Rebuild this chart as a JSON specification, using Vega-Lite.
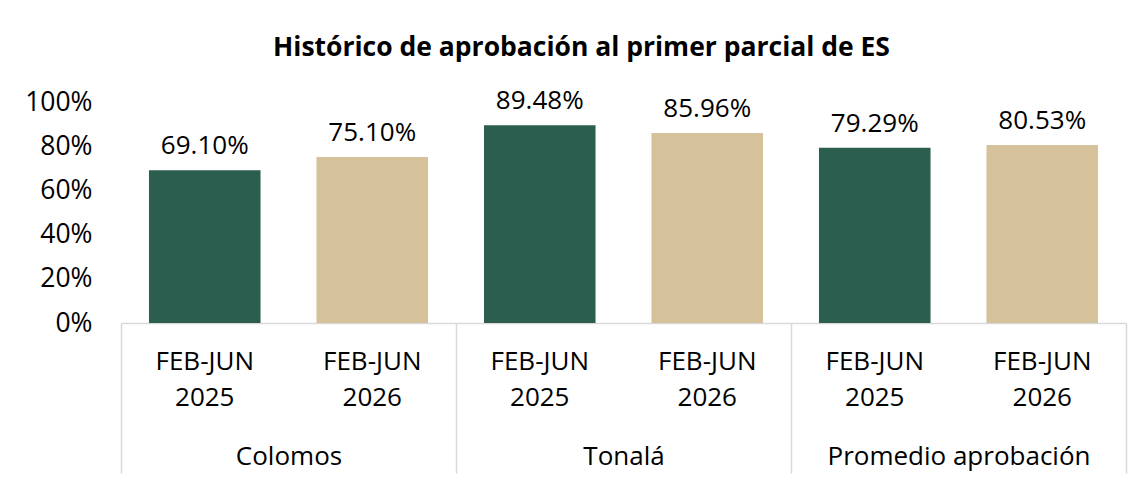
{
  "$schema": "https://vega.github.io/schema/vega-lite/v6.json",
  "width": 1005,
  "height": 221,
  "autosize": {"type": "none"},
  "padding": {"left": 121, "top": 102, "right": 16, "bottom": 159},
  "background": "white",
  "config": {"view": {"stroke": null}, "font": "Open Sans"},
  "title": {
    "text": "Histórico de aprobación al primer parcial de ES",
    "font": "Open Sans",
    "fontSize": 26.5,
    "fontWeight": "bold",
    "color": "#000000",
    "anchor": "middle",
    "dx": -42,
    "offset": 27
  },
  "data": {
    "values": [
      {"key": "Colomos | FEB-JUN 2025", "grupo": "Colomos", "periodo": "FEB-JUN 2025", "valor": 0.691, "etiqueta": "69.10%"},
      {"key": "Colomos | FEB-JUN 2026", "grupo": "Colomos", "periodo": "FEB-JUN 2026", "valor": 0.751, "etiqueta": "75.10%"},
      {"key": "Tonalá | FEB-JUN 2025", "grupo": "Tonalá", "periodo": "FEB-JUN 2025", "valor": 0.8948, "etiqueta": "89.48%"},
      {"key": "Tonalá | FEB-JUN 2026", "grupo": "Tonalá", "periodo": "FEB-JUN 2026", "valor": 0.8596, "etiqueta": "85.96%"},
      {"key": "Promedio aprobación | FEB-JUN 2025", "grupo": "Promedio aprobación", "periodo": "FEB-JUN 2025", "valor": 0.7929, "etiqueta": "79.29%"},
      {"key": "Promedio aprobación | FEB-JUN 2026", "grupo": "Promedio aprobación", "periodo": "FEB-JUN 2026", "valor": 0.8053, "etiqueta": "80.53%"}
    ]
  },
  "layer": [
    {
      "layer": [
        {
          "mark": {"type": "bar"},
          "encoding": {
            "x": {
              "field": "key",
              "type": "nominal",
              "sort": null,
              "scale": {"paddingInner": 0.334, "paddingOuter": 0.167},
              "axis": {
                "orient": "bottom",
                "title": null,
                "domain": false,
                "ticks": false,
                "labelAngle": 0,
                "labelExpr": "split(split(datum.label, ' | ')[1], ' ')",
                "labelFont": "Open Sans",
                "labelFontSize": 26,
                "labelLineHeight": 36,
                "labelColor": "#000000",
                "labelPadding": 25,
                "labelBaseline": "top"
              }
            },
            "y": {
              "field": "valor",
              "type": "quantitative",
              "scale": {"domain": [0, 1], "nice": false},
              "axis": {
                "title": null,
                "values": [0, 0.2, 0.4, 0.6, 0.8, 1],
                "format": ".0%",
                "domain": false,
                "ticks": false,
                "grid": false,
                "labelFont": "Open Sans",
                "labelFontSize": 26.5,
                "labelColor": "#000000",
                "labelPadding": 29
              }
            },
            "color": {
              "field": "periodo",
              "type": "nominal",
              "scale": {"domain": ["FEB-JUN 2025", "FEB-JUN 2026"], "range": ["#2B5E4E", "#D5C19A"]},
              "legend": null
            }
          }
        },
        {
          "mark": {"type": "text", "baseline": "alphabetic", "dy": -16, "font": "Open Sans", "fontSize": 26, "color": "#000000"},
          "encoding": {
            "x": {"field": "key", "type": "nominal", "sort": null},
            "y": {"field": "valor", "type": "quantitative"},
            "text": {"field": "etiqueta"}
          }
        }
      ]
    },
    {
      "mark": {"type": "point", "opacity": 0},
      "encoding": {
        "x": {
          "field": "grupo",
          "type": "nominal",
          "sort": null,
          "scale": {"paddingInner": 0, "paddingOuter": 0},
          "axis": {
            "orient": "bottom",
            "title": null,
            "labelAngle": 0,
            "domain": true,
            "domainColor": "#D9D9D9",
            "domainWidth": 1.5,
            "ticks": true,
            "tickColor": "#D9D9D9",
            "tickWidth": 1.5,
            "tickSize": 150,
            "tickBand": "extent",
            "labelFont": "Open Sans",
            "labelFontSize": 26,
            "labelColor": "#000000",
            "labelLimit": 0,
            "labelPadding": -30,
            "labelBaseline": "top"
          }
        },
        "y": {"field": "valor", "type": "quantitative"}
      }
    }
  ],
  "resolve": {"scale": {"x": "independent"}, "axis": {"x": "independent"}}
}
